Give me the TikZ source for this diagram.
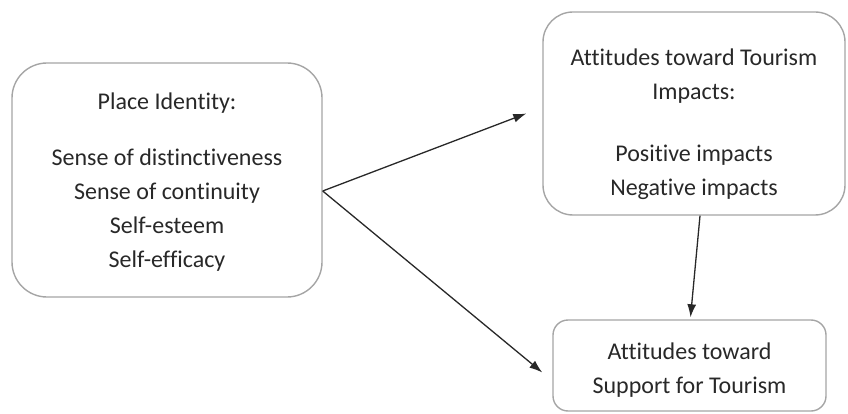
\documentclass[tikz,border=0pt]{standalone}
\usepackage{fontspec}
\setmainfont{Carlito}[Ligatures=NoCommon]
\usetikzlibrary{arrows.meta}

\definecolor{boxgray}{RGB}{165,165,165}
\definecolor{inkgray}{RGB}{40,40,40}

\begin{document}
\begin{tikzpicture}[x=1pt,y=-1pt,
  box/.style={draw=boxgray,line width=1.4pt,rounded corners=#1,inner sep=0pt},
  txt/.style={align=center,text=inkgray,font=\fontsize{24}{34}\selectfont},
  link/.style={draw=inkgray,line width=1.3pt,-{Latex[length=13pt,width=9pt]}}]

  \useasboundingbox (0,0) rectangle (848,414);

  % the three boxes
  \node (ident) [box=35pt,minimum width=310pt,minimum height=234pt] at (167,180) {};
  \node (attimp) [box=30pt,minimum width=302pt,minimum height=203pt] at (694,113.5) {};
  \node (support) [box=15pt,minimum width=273pt,minimum height=91pt] at (689.5,365.5) {};

  % their texts
  \node (identtxt) [txt] at ([yshift=-2pt]ident.center) {Place Identity:\\[22pt]
    Sense of distinctiveness\\Sense of continuity\\Self-esteem\\Self-efficacy};
  \node (attimptxt) [txt] at ([yshift=-11pt]attimp.center) {Attitudes toward Tourism\\Impacts:\\[28pt]
    Positive impacts\\Negative impacts};
  \node (supporttxt) [txt] at ([yshift=-5pt]support.center) {Attitudes toward\\Support for Tourism};

  % arrows
  \coordinate (split) at ([yshift=-11pt]ident.east);
  \draw[link] (split) -- ([xshift=-16pt]attimp.west);
  \draw[link] (split) -- ([xshift=-10pt,yshift=-7pt]support.west);
  \draw[link] ([xshift=6pt]attimp.south) -- ([xshift=1pt,yshift=2pt]support.north);

\end{tikzpicture}
\end{document}
